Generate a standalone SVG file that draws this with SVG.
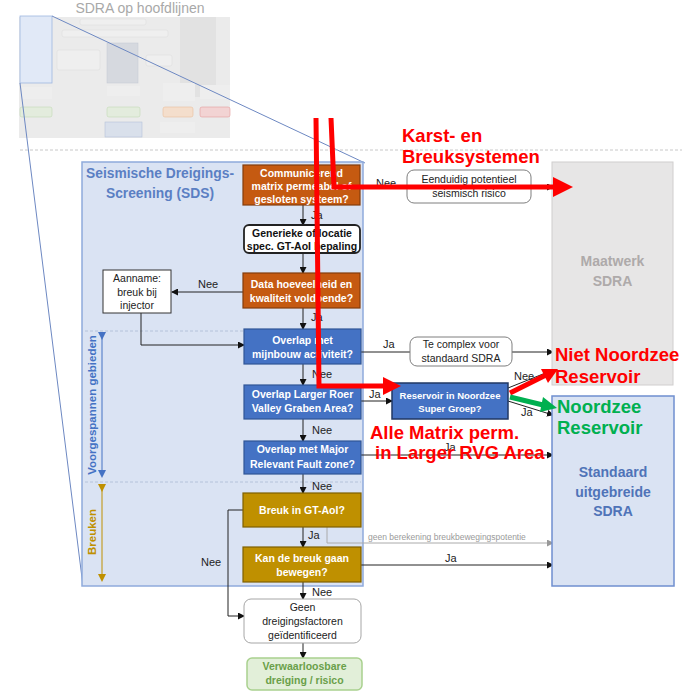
<svg xmlns="http://www.w3.org/2000/svg" width="691" height="692" viewBox="0 0 691 692">
<defs>
<marker id="ah" markerWidth="7" markerHeight="7" refX="6" refY="3.5" orient="auto" markerUnits="userSpaceOnUse"><path d="M0,0 L7,3.5 L0,7 z" fill="#111"/></marker>
<marker id="ahg" markerWidth="7" markerHeight="7" refX="6" refY="3.5" orient="auto" markerUnits="userSpaceOnUse"><path d="M0,0 L7,3.5 L0,7 z" fill="#999"/></marker>
<marker id="ab" markerWidth="8" markerHeight="8" refX="4" refY="4" orient="auto" markerUnits="userSpaceOnUse"><path d="M0,0 L8,4 L0,8 z" fill="#4472c4"/></marker>
<marker id="ay" markerWidth="8" markerHeight="8" refX="4" refY="4" orient="auto" markerUnits="userSpaceOnUse"><path d="M0,0 L8,4 L0,8 z" fill="#bf9000"/></marker>
<style>
text{font-family:"Liberation Sans",Arial,sans-serif}
.bx{font-size:10.5px;font-weight:bold;fill:#fff;text-anchor:middle}
.bk{font-size:10.5px;font-weight:bold;fill:#111;text-anchor:middle}
.nt{font-size:10.5px;fill:#222;text-anchor:middle}
.lb{font-size:11px;fill:#222}
.or{fill:#c55a11;stroke:#843c0c;stroke-width:1.2}
.bl{fill:#4472c4;stroke:#2f5597;stroke-width:1.2}
.gd{fill:#bf9000;stroke:#7f6000;stroke-width:1.2}
.ln{fill:none;stroke:#222;stroke-width:1}
.red{font-size:18.5px;font-weight:bold;fill:#ff0000}
.grn{font-size:18.5px;font-weight:bold;fill:#00b050}
.rl{fill:none;stroke:#ff0000;stroke-width:5}
</style>
</defs>
<rect width="691" height="692" fill="#fff"/>

<!-- thumbnail -->
<g id="thumbnail" opacity="0.85">
<rect x="19" y="17" width="211" height="121" fill="#e8e8e8"/>
<rect x="180" y="17" width="36" height="80" fill="#dedede"/>
<rect x="80" y="19" width="66" height="6" rx="2" fill="#ededed" stroke="#d4d4d4" stroke-width="0.5"/>
<rect x="62" y="30" width="106" height="7" rx="2" fill="#ededed" stroke="#d4d4d4" stroke-width="0.5"/>
<rect x="57" y="50" width="43" height="20" rx="2" fill="#ededed" stroke="#d4d4d4" stroke-width="0.5"/>
<rect x="107" y="43" width="31" height="40" fill="#cfd3da" stroke="#b8bfca" stroke-width="0.5"/>
<rect x="146" y="55" width="26" height="11" rx="2" fill="#ededed" stroke="#d4d4d4" stroke-width="0.5"/>
<rect x="107" y="86" width="33" height="10" fill="#ececec"/>
<rect x="163" y="83" width="32" height="18" fill="#ececec"/>
<rect x="200" y="85" width="30" height="14" fill="#ececec"/>
<rect x="22" y="87" width="30" height="12" fill="#ececec"/>
<rect x="20" y="107" width="32" height="10" rx="2" fill="#dfe9d8" stroke="#b9d3a8" stroke-width="0.6"/>
<rect x="107" y="107" width="33" height="10" rx="2" fill="#dfe9d8" stroke="#b9d3a8" stroke-width="0.6"/>
<rect x="163" y="107" width="30" height="10" rx="2" fill="#f3d9c4" stroke="#e6b48a" stroke-width="0.6"/>
<rect x="200" y="107" width="30" height="10" rx="2" fill="#f0cccc" stroke="#e08a8a" stroke-width="0.6"/>
<rect x="105" y="122" width="37" height="15" fill="#d3dbe8" stroke="#a9b8d2" stroke-width="0.6"/>
<rect x="160" y="122" width="35" height="11" fill="#ececec"/>
<rect x="20" y="16" width="32" height="67" fill="#dce6f6" stroke="#8faadc" stroke-width="0.8"/>
<text x="140" y="13" font-size="14" fill="#9a9a9a" text-anchor="middle">SDRA op hoofdlijnen</text>
</g>
<line x1="52" y1="16" x2="365" y2="163" stroke="#6d88c2" stroke-width="1"/>
<line x1="20" y1="83" x2="83" y2="586" stroke="#6d88c2" stroke-width="1"/>
<line x1="20" y1="150" x2="682" y2="150" stroke="#c8c8c8" stroke-width="1" stroke-dasharray="3,2"/>

<!-- SDS container -->
<g id="sds">
<rect x="82" y="162" width="281" height="424" fill="#dae3f3" stroke="#8faadc" stroke-width="1.5"/>
<text x="160" y="178" font-size="13.8" font-weight="bold" fill="#5b7fc3" text-anchor="middle">Seismische Dreigings-</text>
<text x="160" y="198" font-size="13.8" font-weight="bold" fill="#5b7fc3" text-anchor="middle">Screening (SDS)</text>
<line x1="85" y1="331" x2="361" y2="331" stroke="#b4c2da" stroke-width="1" stroke-dasharray="3,2"/>
<line x1="85" y1="482" x2="361" y2="482" stroke="#b4c2da" stroke-width="1" stroke-dasharray="3,2"/>
<line x1="102" y1="336" x2="102" y2="474" stroke="#4472c4" stroke-width="1" marker-start="url(#ab)" marker-end="url(#ab)"/>
<text transform="translate(96,405) rotate(-90)" font-size="11.5" font-weight="bold" fill="#4472c4" text-anchor="middle">Voorgespannen gebieden</text>
<line x1="102" y1="488" x2="102" y2="578" stroke="#bf9000" stroke-width="1" marker-start="url(#ay)" marker-end="url(#ay)"/>
<text transform="translate(96,532) rotate(-90)" font-size="11.5" font-weight="bold" fill="#bf9000" text-anchor="middle">Breuken</text>
</g>

<!-- connectors -->
<g id="connectors">
<line class="ln" x1="303" y1="205" x2="303" y2="225" marker-end="url(#ah)"/>
<line class="ln" x1="303" y1="253" x2="303" y2="273" marker-end="url(#ah)"/>
<line class="ln" x1="243" y1="292" x2="172" y2="292" marker-end="url(#ah)"/>
<line class="ln" x1="303" y1="308" x2="303" y2="329" marker-end="url(#ah)"/>
<polyline class="ln" points="141,313 141,345 244,345" marker-end="url(#ah)"/>
<line class="ln" x1="303" y1="364" x2="303" y2="385" marker-end="url(#ah)"/>
<line class="ln" x1="303" y1="419" x2="303" y2="441" marker-end="url(#ah)"/>
<line class="ln" x1="303" y1="474" x2="303" y2="493" marker-end="url(#ah)"/>
<line class="ln" x1="303" y1="527" x2="303" y2="547" marker-end="url(#ah)"/>
<line class="ln" x1="303" y1="582" x2="303" y2="599" marker-end="url(#ah)"/>
<line class="ln" x1="303" y1="643" x2="303" y2="658" marker-end="url(#ah)"/>
<polyline class="ln" points="243,510 228,510 228,616 244,616" marker-end="url(#ah)"/>
<line class="ln" x1="360" y1="187" x2="407" y2="187"/>
<line class="ln" x1="531" y1="187" x2="553" y2="187" marker-end="url(#ah)"/>
<line class="ln" x1="361" y1="352" x2="410" y2="352"/>
<line class="ln" x1="512" y1="352" x2="553" y2="352" marker-end="url(#ah)"/>
<line class="ln" x1="361" y1="401" x2="392" y2="401" marker-end="url(#ah)"/>
<line class="ln" x1="508" y1="388" x2="553" y2="370" marker-end="url(#ah)"/>
<line class="ln" x1="508" y1="401" x2="553" y2="415" marker-end="url(#ah)"/>
<line class="ln" x1="361" y1="455" x2="553" y2="455" marker-end="url(#ah)"/>
<polyline fill="none" stroke="#aaa" stroke-width="1" points="327,527 327,543 553,543" marker-end="url(#ahg)"/>
<line class="ln" x1="361" y1="565" x2="553" y2="565" marker-end="url(#ah)"/>
<text class="lb" x="311" y="219">Ja</text>
<text class="lb" x="311" y="321">Ja</text>
<text class="lb" x="198" y="288">Nee</text>
<text class="lb" x="312" y="378">Nee</text>
<text class="lb" x="312" y="434">Nee</text>
<text class="lb" x="312" y="490">Nee</text>
<text class="lb" x="308" y="539">Ja</text>
<text class="lb" x="312" y="596">Nee</text>
<text class="lb" x="201" y="566">Nee</text>
<text class="lb" x="376" y="187">Nee</text>
<text class="lb" x="383" y="348">Ja</text>
<text class="lb" x="369" y="398">Ja</text>
<text class="lb" x="514" y="380">Nee</text>
<text class="lb" x="521" y="416">Ja</text>
<text class="lb" x="444" y="451">Ja</text>
<text class="lb" x="445" y="562">Ja</text>
<text x="368" y="540" font-size="8.5" fill="#9a9a9a">geen berekening breukbewegingspotentie</text>
</g>

<!-- nodes -->
<g id="n-communicerend"><rect class="or" x="243" y="165" width="117" height="40"/>
<text class="bx" x="301.5" y="177">Communicerend</text><text class="bx" x="301.5" y="190">matrix permeabel of</text><text class="bx" x="301.5" y="203">gesloten systeem?</text></g>
<g id="n-generieke"><rect x="244" y="225" width="116" height="28" rx="5" fill="#fff" stroke="#222" stroke-width="1.8"/>
<text class="bk" x="302" y="237">Generieke of locatie</text><text class="bk" x="302" y="250">spec. GT-AoI bepaling</text></g>
<g id="n-data"><rect class="or" x="243" y="273" width="117" height="35"/>
<text class="bx" x="301.5" y="288">Data hoeveelheid en</text><text class="bx" x="301.5" y="302">kwaliteit voldoende?</text></g>
<g id="n-aanname"><rect x="103" y="270" width="68" height="43" fill="#fff" stroke="#333" stroke-width="1"/>
<text class="nt" x="137" y="282">Aanname:</text><text class="nt" x="137" y="296">breuk bij</text><text class="nt" x="137" y="309">injector</text></g>
<g id="n-mijnbouw"><rect class="bl" x="244" y="329" width="117" height="35"/>
<text class="bx" x="302.5" y="344">Overlap met</text><text class="bx" x="302.5" y="358">mijnbouw activiteit?</text></g>
<g id="n-rvg"><rect class="bl" x="244" y="385" width="117" height="34"/>
<text class="bx" x="302.5" y="398">Overlap Larger Roer</text><text class="bx" x="302.5" y="412">Valley Graben Area?</text></g>
<g id="n-fault"><rect class="bl" x="244" y="441" width="117" height="33"/>
<text class="bx" x="302.5" y="453">Overlap met Major</text><text class="bx" x="302.5" y="468">Relevant Fault zone?</text></g>
<g id="n-breuk"><rect class="gd" x="243" y="493" width="118" height="34"/>
<text class="bx" x="302" y="514">Breuk in GT-AoI?</text></g>
<g id="n-bewegen"><rect class="gd" x="243" y="547" width="118" height="35"/>
<text class="bx" x="302" y="562">Kan de breuk gaan</text><text class="bx" x="302" y="576">bewegen?</text></g>
<g id="n-geen"><rect x="244" y="599" width="117" height="44" rx="7" fill="#fff" stroke="#a6a6a6" stroke-width="1"/>
<text class="nt" x="302.5" y="611" fill="#333">Geen</text><text class="nt" x="302.5" y="625">dreigingsfactoren</text><text class="nt" x="302.5" y="639">geïdentificeerd</text></g>
<g id="n-verwaarloosbaar"><rect x="247" y="658" width="115" height="32" rx="5" fill="#e2efd9" stroke="#a9d18e" stroke-width="1.5"/>
<text x="304.5" y="670" font-size="10.5" font-weight="bold" fill="#6a9f4a" text-anchor="middle">Verwaarloosbare</text><text x="304.5" y="684" font-size="10.5" font-weight="bold" fill="#6a9f4a" text-anchor="middle">dreiging / risico</text></g>
<g id="n-eenduidig"><rect x="407" y="170" width="124" height="33" rx="7" fill="#fff" stroke="#7f7f7f" stroke-width="1"/>
<text class="nt" x="469" y="183" fill="#404040">Eenduidig potentieel</text><text class="nt" x="469" y="197">seismisch risico</text></g>
<g id="n-complex"><rect x="410" y="337" width="102" height="29" rx="7" fill="#fff" stroke="#7f7f7f" stroke-width="1"/>
<text class="nt" x="461" y="348">Te complex voor</text><text class="nt" x="461" y="362">standaard SDRA</text></g>
<g id="n-reservoir"><rect x="392" y="383" width="116" height="36" fill="#4472c4" stroke="#203864" stroke-width="1.5"/>
<text x="450" y="399" font-size="9.5" font-weight="bold" fill="#fff" text-anchor="middle">Reservoir in Noordzee</text><text x="450" y="412" font-size="9.5" font-weight="bold" fill="#fff" text-anchor="middle">Super Groep?</text></g>
<g id="n-maatwerk"><rect x="552" y="162" width="121" height="223" fill="#e7e6e6" stroke="#d0cece" stroke-width="1"/>
<text x="612.5" y="266" font-size="14" font-weight="bold" fill="#aeaaaa" text-anchor="middle">Maatwerk</text><text x="612.5" y="286" font-size="14" font-weight="bold" fill="#aeaaaa" text-anchor="middle">SDRA</text></g>
<g id="n-standaard"><rect x="552" y="396" width="122" height="190" fill="#dae3f3" stroke="#6f8fcf" stroke-width="1.5"/>
<text x="613" y="477" font-size="14" font-weight="bold" fill="#4f73b8" text-anchor="middle">Standaard</text><text x="613" y="497" font-size="14" font-weight="bold" fill="#4f73b8" text-anchor="middle">uitgebreide</text><text x="613" y="516" font-size="14" font-weight="bold" fill="#4f73b8" text-anchor="middle">SDRA</text></g>

<!-- red/green annotations -->
<g id="annotations">
<polyline class="rl" points="331,118 334,187 555,187"/>
<polygon points="553,177 573,187 553,197" fill="#ff0000"/>
<polyline class="rl" points="316,118 319,386 385,386"/>
<polygon points="383,377 401,386 383,395" fill="#ff0000"/>
<line class="rl" x1="510" y1="393" x2="546" y2="375"/>
<polygon points="558,369 548,383 541,369" fill="#ff0000"/>
<line x1="510" y1="397" x2="543" y2="405" stroke="#00b050" stroke-width="5"/>
<polygon points="557,408 540,412 543,397" fill="#00b050"/>
<text class="red" x="402" y="142">Karst- en</text>
<text class="red" x="402" y="163">Breuksystemen</text>
<text class="red" x="555" y="361">Niet Noordzee</text>
<text class="red" x="555" y="383">Reservoir</text>
<text class="grn" x="557" y="413">Noordzee</text>
<text class="grn" x="557" y="434">Reservoir</text>
<text class="red" x="370" y="439">Alle Matrix perm.</text>
<text class="red" x="375" y="459">in Larger RVG Area</text>
</g>
</svg>
